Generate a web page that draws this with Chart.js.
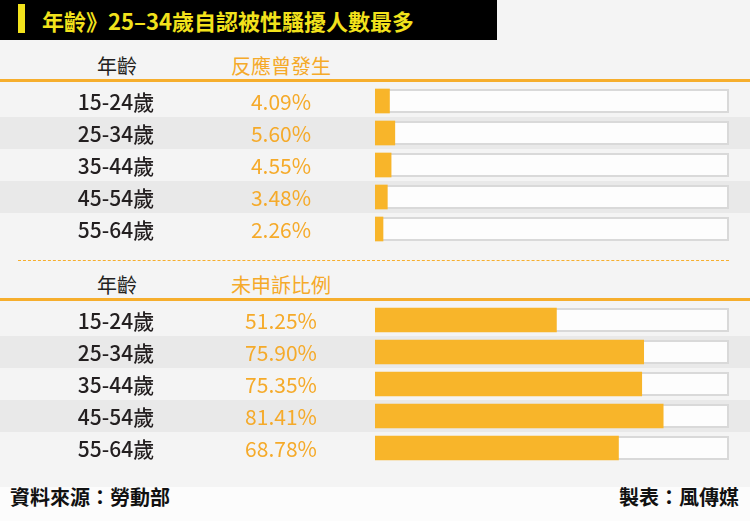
<!DOCTYPE html>
<html>
<head>
<meta charset="utf-8">
<script src="https://cdn.jsdelivr.net/npm/chart.js@4/dist/chart.umd.min.js"></script>
<style>
  html,body{margin:0;padding:0;}
  body{width:750px;height:521px;background:#f4f4f4;position:relative;overflow:hidden;font-family:"Noto Sans CJK TC","Noto Sans",sans-serif;}
  .abs{position:absolute;}
  #titlebar{left:0;top:0;width:497px;height:40px;background:#000;}
  #ybar{left:18px;top:4px;width:7px;height:29px;background:#f2e21c;}
  #title{left:42px;top:0;height:40px;line-height:40px;color:#f2e21c;font-weight:bold;font-size:22px;white-space:nowrap;}
  .hdr{font-size:20px;line-height:28px;height:28px;white-space:nowrap;text-align:center;width:140px;}
  .line{left:0;width:750px;height:3px;background:#f6ae2d;}
  #dash{left:18px;width:711px;top:260px;height:0;border-top:1px dashed #f6ae2d;}
  #footer{left:0;top:487px;width:750px;height:34px;background:#fcfcfc;}
  .foot{font-size:20px;font-weight:bold;color:#111;line-height:28px;top:483px;white-space:nowrap;}
  canvas{position:absolute;left:0;}
</style>
</head>
<body>
<div id="titlebar" class="abs"></div>
<div id="ybar" class="abs"></div>
<div id="title" class="abs">年齡》25–34歲自認被性騷擾人數最多</div>

<div class="abs hdr" style="left:47px;top:52px;color:#231f20;">年齡</div>
<div class="abs hdr" style="left:211px;top:52px;color:#f5aa2a;">反應曾發生</div>
<div class="abs line" style="top:79px;"></div>

<div id="dash" class="abs"></div>

<div class="abs hdr" style="left:47px;top:271px;color:#231f20;">年齡</div>
<div class="abs hdr" style="left:211px;top:271px;color:#f5aa2a;">未申訴比例</div>
<div class="abs line" style="top:298px;"></div>

<canvas id="c1" width="750" height="160" style="top:85px;"></canvas>
<canvas id="c2" width="750" height="160" style="top:304px;"></canvas>

<div id="footer" class="abs"></div>
<div class="abs foot" style="left:10px;">資料來源：勞動部</div>
<div class="abs foot" style="right:11px;">製表：風傳媒</div>

<script>
const ageGroups = ["15-24歲","25-34歲","35-44歲","45-54歲","55-64歲"];
const harassedPct = [4.09, 5.60, 4.55, 3.48, 2.26];
const notReportedPct = [51.25, 75.90, 75.35, 81.41, 68.78];
const scaleMin = 0;
const scaleMax = 100;

const rowPlugin = {
  id: 'rows',
  beforeDraw(chart) {
    const ctx = chart.ctx;
    const ys = chart.scales.y;
    const band = ys.height / chart.data.labels.length;
    ctx.save();
    chart.data.labels.forEach((l, i) => {
      if (i % 2 === 1) {
        const y = ys.getPixelForValue(i);
        ctx.fillStyle = '#e9e9e9';
        ctx.fillRect(0, y - band / 2, chart.width, band);
      }
    });
    ctx.restore();
  },
  beforeDatasetsDraw(chart) {
    const ctx = chart.ctx;
    const xs = chart.scales.x;
    const meta = chart.getDatasetMeta(0);
    const x0 = xs.getPixelForValue(scaleMin);
    const x1 = xs.getPixelForValue(scaleMax);
    ctx.save();
    meta.data.forEach(bar => {
      const h = bar.height;
      const top = bar.y - h / 2;
      ctx.fillStyle = '#fdfdfd';
      ctx.fillRect(x0, top, x1 - x0, h);
      ctx.strokeStyle = '#d9d9d9';
      ctx.lineWidth = 2;
      ctx.strokeRect(x0 + 1, top + 1, x1 - x0 - 2, h - 2);
    });
    ctx.restore();
  },
  afterDraw(chart) {
    const ctx = chart.ctx;
    const ys = chart.scales.y;
    const vals = chart.data.datasets[0].data;
    ctx.save();
    ctx.textAlign = 'center';
    ctx.textBaseline = 'middle';
    chart.data.labels.forEach((l, i) => {
      const y = ys.getPixelForValue(i);
      ctx.font = '500 21px "Noto Sans CJK TC", "Noto Sans", sans-serif';
      ctx.fillStyle = '#231f20';
      ctx.fillText(l, 116, y + 1);
      ctx.font = '21px "Noto Sans CJK TC", "Noto Sans", sans-serif';
      ctx.fillStyle = '#f5aa2a';
      ctx.fillText(vals[i].toFixed(2) + '%', 281, y + 1);
    });
    ctx.restore();
  }
};

function makeChart(id, values) {
  return new Chart(document.getElementById(id), {
    type: 'bar',
    data: {
      labels: ageGroups,
      datasets: [{
        data: values,
        backgroundColor: '#f8b52a',
        borderWidth: 0,
        barThickness: 24
      }]
    },
    options: {
      indexAxis: 'y',
      responsive: false,
      animation: false,
      layout: { padding: { left: 375, right: 21, top: 0, bottom: 0 } },
      plugins: { legend: { display: false }, tooltip: { enabled: false } },
      scales: {
        x: { display: false, min: scaleMin, max: scaleMax },
        y: { display: false }
      }
    },
    plugins: [rowPlugin]
  });
}

makeChart('c1', harassedPct);
makeChart('c2', notReportedPct);
</script>
</body>
</html>
